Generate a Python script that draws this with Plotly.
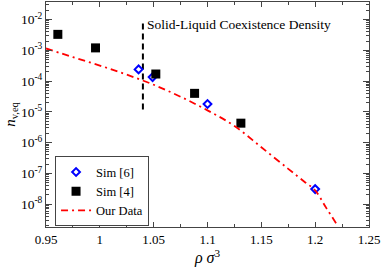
import plotly.graph_objects as go

# ---- data ----
sim6_rho = [1.036, 1.049, 1.100, 1.200]
sim6_n = [2.4e-4, 1.35e-4, 1.8e-5, 3.1e-8]

sim4_rho = [0.961, 0.996, 1.052, 1.088, 1.131]
sim4_n = [3.3e-3, 1.2e-3, 1.7e-4, 4.0e-5, 4.3e-6]

our_rho = [0.95, 0.975, 1.0, 1.025, 1.05, 1.075, 1.10, 1.125, 1.15, 1.175, 1.19, 1.20, 1.21, 1.2215]
our_n = [1.15e-3, 6.0e-4, 3.2e-4, 1.62e-4, 7.6e-5, 3.1e-5, 1.12e-5, 3.5e-6, 7.1e-7, 1.41e-7, 5.4e-8, 2.8e-8, 7.9e-9, 1.86e-9]

coex_rho = [1.04, 1.04]
coex_n = [1.2e-5, 1.0e-2]

x_ticks = [0.95, 1.0, 1.05, 1.1, 1.15, 1.2, 1.25]
x_labels = ["0.95", "1", "1.05", "1.1", "1.15", "1.2", "1.25"]
y_exps = [-8, -7, -6, -5, -4, -3, -2]

FONT = "Liberation Serif, Times New Roman, DejaVu Serif, serif"

fig = go.Figure()
fig.add_trace(go.Scatter(x=coex_rho, y=coex_n, mode="lines",
                         line=dict(color="black", width=2, dash="6px,4px"),
                         showlegend=False, hoverinfo="skip"))
fig.add_trace(go.Scatter(x=sim6_rho, y=sim6_n, mode="markers", name="Sim [6]",
                         marker=dict(symbol="diamond-open", size=6, color="#0000ff",
                                     line=dict(width=2, color="#0000ff"))))
fig.add_trace(go.Scatter(x=sim4_rho, y=sim4_n, mode="markers", name="Sim [4]",
                         marker=dict(symbol="square", size=9, color="black",
                                     line=dict(width=0))))
fig.add_trace(go.Scatter(x=our_rho, y=our_n, mode="lines", name="Our Data",
                         line=dict(color="#ff0000", width=1.8, dash="7px,4px,2px,4px"),
                         line_shape="spline"))

minor_y = [k * 10.0 ** e for e in range(-10, 0) for k in range(2, 10)]

fig.update_layout(
    width=382, height=273,
    margin=dict(l=46, r=13, t=2, b=46),
    paper_bgcolor="white", plot_bgcolor="white",
    font=dict(family=FONT, size=13, color="black"),
    showlegend=True,
    legend=dict(x=0.028, y=0.003, xanchor="left", yanchor="bottom",
                bordercolor="#444", borderwidth=1, bgcolor="white",
                font=dict(family=FONT, size=12.5), tracegroupgap=0,
                itemwidth=30),
    annotations=[dict(x=1.042, y=-2.15, xref="x", yref="y", xanchor="left", yanchor="middle",
                      text="Solid-Liquid Coexistence Density", showarrow=False,
                      font=dict(family=FONT, size=13.5, color="black"))],
)
fig.update_xaxes(range=[0.95, 1.25], tickvals=x_ticks, ticktext=x_labels,
                 ticks="inside", ticklen=5, tickcolor="#444", showline=True,
                 linecolor="#444", linewidth=1, mirror="allticks", showgrid=False,
                 zeroline=False, automargin=False,
                 minor=dict(dtick=0.025, ticks="inside", ticklen=3, tickcolor="#444", showgrid=False),
                 tickfont=dict(family=FONT, size=13),
                 title=dict(text="<i>ρ σ</i><sup>3</sup>", font=dict(family=FONT, size=16), standoff=2))
fig.update_yaxes(type="log", range=[-8.74, -1.43],
                 tickvals=[10.0 ** e for e in y_exps],
                 ticktext=["10<sup>%d</sup>" % e for e in y_exps],
                 ticks="inside", ticklen=6, tickcolor="#444", showline=True,
                 linecolor="#444", linewidth=1, mirror="allticks", showgrid=False,
                 zeroline=False, automargin=False,
                 minor=dict(tickvals=minor_y, ticks="inside", ticklen=3, tickcolor="#444", showgrid=False),
                 tickfont=dict(family=FONT, size=13.5),
                 title=dict(text="<i>n</i><sub>v,eq</sub>", font=dict(family=FONT, size=15), standoff=1))

fig.write_html("out.html", config={"displayModeBar": False},
               post_script="document.body.style.margin='0';document.body.style.overflow='hidden';")
